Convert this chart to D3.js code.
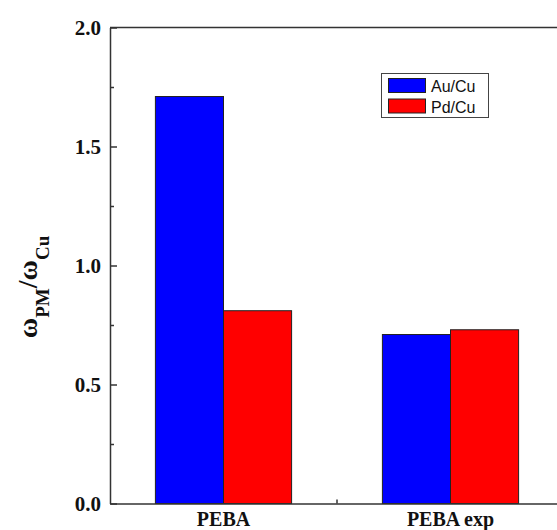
<!DOCTYPE html>
<html><head><meta charset="utf-8">
<script src="https://cdn.jsdelivr.net/npm/d3@7"></script>
<style>
html,body{margin:0;padding:0;background:#fff;}
.serif{font-family:"Liberation Serif","Times New Roman",Times,serif;font-weight:bold;}
.sans{font-family:"Liberation Sans",Arial,Helvetica,sans-serif;}
</style>
</head><body>
<script>
const categories = ["PEBA", "PEBA exp"];
const seriesNames = ["Au/Cu", "Pd/Cu"];
const auCu = [1.71, 0.71];
const pdCu = [0.81, 0.73];
const majorTicks = [0.0, 0.5, 1.0, 1.5, 2.0];
const minorTicks = [0.25, 0.75, 1.25, 1.75];
const colors = ["#0000ff", "#ff0000"];

const W = 557, H = 530;
const svg = d3.select("body").append("svg").attr("width", W).attr("height", H);
const L = 110, R = 564, T = 27.5, B = 503.5;

const x = d3.scaleBand().domain(categories).range([L, R]).paddingInner(0.4).paddingOuter(0.2);
const xs = d3.scaleBand().domain(seriesNames).range([0, x.bandwidth()]);
const y = d3.scaleLinear().domain([0, 2]).range([B, T]);
const seriesVals = [auCu, pdCu];

// bars
const g = svg.append("g");
seriesNames.forEach((s, si) => {
  g.selectAll(null).data(categories).enter().append("rect")
    .attr("x", (c) => x(c) + xs(s))
    .attr("y", (c, i) => y(seriesVals[si][i]))
    .attr("width", xs.bandwidth())
    .attr("height", (c, i) => B - y(seriesVals[si][i]))
    .attr("fill", colors[si])
    .attr("stroke", "#222").attr("stroke-width", 1);
});

// frame
const axColor = "#333";
svg.append("line").attr("x1", L).attr("x2", R).attr("y1", T).attr("y2", T).attr("stroke", axColor).attr("stroke-width", 1.5);
svg.append("line").attr("x1", R).attr("x2", R).attr("y1", T).attr("y2", B).attr("stroke", axColor).attr("stroke-width", 1.5);

// y axis
const yAxis = d3.axisLeft(y).tickValues(majorTicks).tickSizeInner(-7).tickSizeOuter(0).tickPadding(9).tickFormat(d3.format(".1f"));
const ya = svg.append("g").attr("transform", `translate(${L},0)`).call(yAxis);
ya.attr("font-family", null).attr("font-size", null);
ya.select(".domain").attr("stroke", axColor).attr("stroke-width", 1.5);
ya.selectAll(".tick line").attr("stroke", axColor).attr("stroke-width", 1.5);
ya.selectAll(".tick text").attr("class", "serif").style("font-size", "21px").attr("fill", "#111");
const yMinor = d3.axisLeft(y).tickValues(minorTicks).tickSize(-4).tickFormat("");
const ym = svg.append("g").attr("transform", `translate(${L},0)`).call(yMinor);
ym.select(".domain").remove();
ym.selectAll(".tick line").attr("stroke", axColor).attr("stroke-width", 1.5);

// x axis
const xAxis = d3.axisBottom(x).tickSize(0);
const xa = svg.append("g").attr("transform", `translate(0,${B})`).call(xAxis);
xa.attr("font-family", null).attr("font-size", null);
xa.select(".domain").attr("stroke", axColor).attr("stroke-width", 1.5);
xa.selectAll(".tick text").attr("class", "serif").style("font-size", "20px").attr("fill", "#111").attr("y", 22).attr("dy", 0);
// minor tick between categories
const mid = (x(categories[0]) + x.bandwidth() + x(categories[1])) / 2;
svg.append("line").attr("x1", mid).attr("x2", mid).attr("y1", B).attr("y2", B - 4).attr("stroke", axColor).attr("stroke-width", 1.5);

// y title
const yt = svg.append("text").attr("class", "serif").attr("transform", `translate(37,287) rotate(-90)`)
  .attr("text-anchor", "middle").style("font-size", "28px").attr("fill", "#111");
yt.append("tspan").text("ω");
yt.append("tspan").text("PM").style("font-size", "19px").attr("dy", 12);
yt.append("tspan").text("/ω").attr("dy", -12);
yt.append("tspan").text("Cu").style("font-size", "19px").attr("dy", 12);

// legend
const lg = svg.append("g");
lg.append("rect").attr("x", 381.5).attr("y", 73.5).attr("width", 107).attr("height", 44).attr("fill", "#fff").attr("stroke", "#444").attr("stroke-width", 1);
seriesNames.forEach((s, i) => {
  lg.append("rect").attr("x", 388.5).attr("y", 78.5 + i * 20.5).attr("width", 37).attr("height", 14).attr("fill", colors[i]).attr("stroke", "#222").attr("stroke-width", 1);
  lg.append("text").attr("class", "sans").attr("x", 431).attr("y", 92 + i * 20.5).text(s)
    .style("font-size", "16px").attr("fill", "#111");
});
</script>
</body></html>
